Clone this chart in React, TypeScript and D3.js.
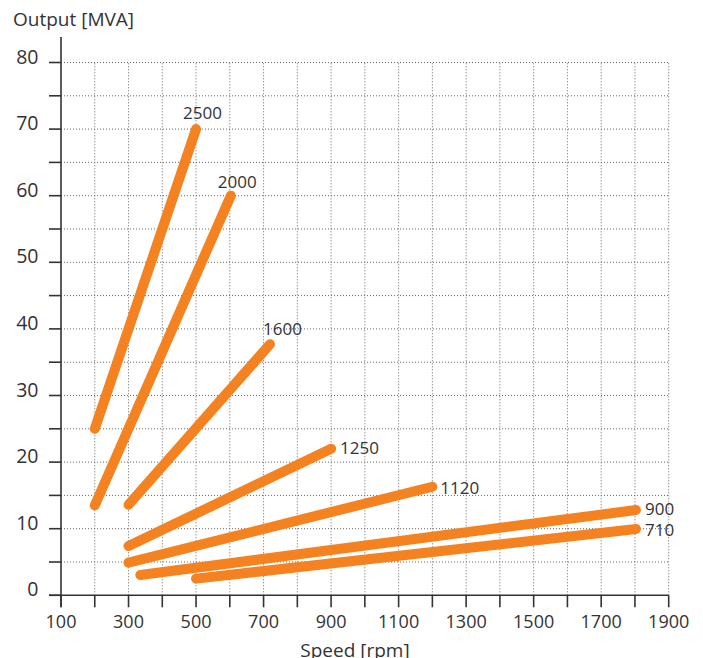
import React from "react";
import * as d3 from "d3";

const speedTicks = [100, 300, 500, 700, 900, 1100, 1300, 1500, 1700, 1900];
const outputTicks = [0, 10, 20, 30, 40, 50, 60, 70, 80];
const seriesNames = ["2500", "2000", "1600", "1250", "1120", "900", "710"];
const startSpeed = [200, 200, 300, 300, 300, 335, 500];
const startOutput = [25, 13.5, 13.6, 7.4, 4.9, 3.05, 2.5];
const endSpeed = [500, 603, 719, 900, 1200, 1803, 1803];
const endOutput = [70, 60, 37.7, 22, 16.3, 12.8, 9.95];
const labelDx = [-13, -13, -7, 9, 8, 9, 9];
const labelDy = [-10, -8, -9, 5, 7, 5, 7];

export default function App() {
  const W = 703, H = 658;
  const x = d3.scaleLinear().domain([100, 1900]).range([61, 668.7]);
  const y = d3.scaleLinear().domain([0, 80]).range([595.3, 62.5]);
  const xGrid = d3.range(200, 1901, 100);
  const yGrid = d3.range(5, 81, 5);
  const xMinor = d3.range(100, 1901, 100);
  const yMinor = d3.range(0, 81, 5);
  const line = d3.line<[number, number]>().x(d => x(d[0])).y(d => y(d[1]));
  const font = "'Open Sans', sans-serif";
  const txt = "#333";
  return (
    <svg width={W} height={H} style={{ position: "absolute", left: 0, top: 0 }} fontFamily={font}>
      <rect width={W} height={H} fill="#fff" />
      {xGrid.map(v => (
        <line key={"gx" + v} x1={x(v)} x2={x(v)} y1={y(0)} y2={y(80)} stroke="#666" strokeWidth={1} strokeDasharray="1,2" />
      ))}
      {yGrid.map(v => (
        <line key={"gy" + v} x1={x(100)} x2={x(1900)} y1={y(v)} y2={y(v)} stroke="#666" strokeWidth={1} strokeDasharray="1,2" />
      ))}
      <line x1={x(100)} x2={x(100)} y1={y(0) + 12} y2={37} stroke="#333" strokeWidth={1.6} />
      <line x1={x(100) - 12} x2={x(1900)} y1={y(0)} y2={y(0)} stroke="#333" strokeWidth={1.6} />
      {xMinor.map(v => (
        <line key={"tx" + v} x1={x(v)} x2={x(v)} y1={y(0)} y2={y(0) + 12} stroke="#333" strokeWidth={1.6} />
      ))}
      {yMinor.map(v => (
        <line key={"ty" + v} x1={x(100) - 12} x2={x(100)} y1={y(v)} y2={y(v)} stroke="#333" strokeWidth={1.6} />
      ))}
      {speedTicks.map(v => (
        <text key={"lx" + v} x={x(v)} y={628} textAnchor="middle" fontSize={18} fill={txt}>{v}</text>
      ))}
      {outputTicks.map(v => (
        <text key={"ly" + v} x={38.5} y={y(v) + 1} textAnchor="end" fontSize={19.5} fill={txt}>{v}</text>
      ))}
      <text x={13} y={26} fontSize={19} fill={txt}>Output [MVA]</text>
      <text x={355} y={657} textAnchor="middle" fontSize={19} fill={txt}>Speed [rpm]</text>
      {seriesNames.map((n, i) => (
        <g key={n}>
          <path d={line([[startSpeed[i], startOutput[i]], [endSpeed[i], endOutput[i]]]) || ""} stroke="#F58220" strokeWidth={10} strokeLinecap="round" fill="none" />
          <text x={x(endSpeed[i]) + labelDx[i]} y={y(endOutput[i]) + labelDy[i]} fontSize={17} fill={txt}>{n}</text>
        </g>
      ))}
    </svg>
  );
}
